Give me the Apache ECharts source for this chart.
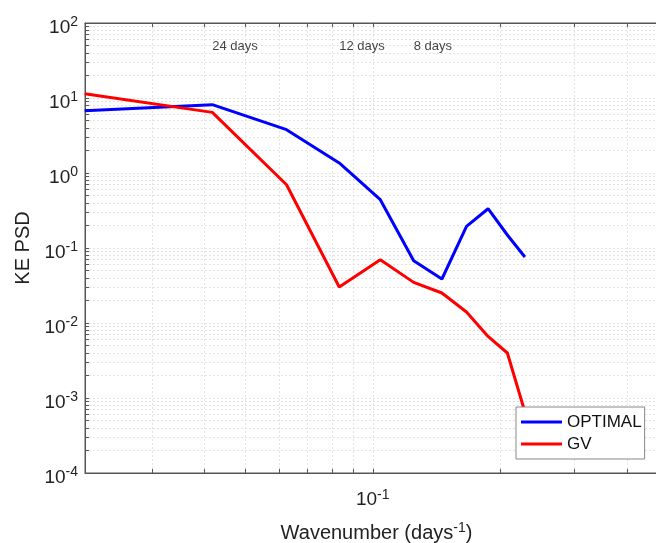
<!DOCTYPE html>
<html>
<head>
<meta charset="utf-8">
<script src="https://cdn.jsdelivr.net/npm/echarts@6/dist/echarts.min.js"></script>
<style>
  html, body { margin: 0; padding: 0; background: #fff; }
  #chart { width: 656px; height: 543px; }
</style>
</head>
<body>
<div id="chart"></div>
<script>
// wavenumber (1/days) of each spectral point
const wavenumber = [0.0208, 0.0417, 0.0625, 0.0833, 0.1042, 0.125, 0.1458, 0.1667, 0.1875, 0.2083, 0.2292];
const optimal = [6.76, 8.14, 3.78, 1.36, 0.44, 0.0677, 0.0386, 0.194, 0.334, 0.149, 0.0759];
const gv = [11.4, 6.43, 0.698, 0.0302, 0.0698, 0.0348, 0.0251, 0.014, 0.00662, 0.00398, 0.00065];

// period annotations
const periodX = [0.04167, 0.08333, 0.125];
const periodLabels = ['24 days', '12 days', '8 days'];
const periodY = 48;

// tick values
const yMajor = [1e-4, 1e-3, 1e-2, 1e-1, 1, 10, 100];
const yTicks = [];
for (let d = 0; d < yMajor.length - 1; d++) {
  for (let m = 1; m <= 9; m++) yTicks.push(yMajor[d] * m);
}
yTicks.push(100);
const xMajor = [0.1];
const xTicks = [0.03, 0.04, 0.05, 0.06, 0.07, 0.08, 0.09, 0.1, 0.2, 0.3, 0.4];

const FONT = '"Liberation Sans", Arial, sans-serif';
const gridColor = '#e3e3e3';
const axisColor = '#555';

function pow10(v) {
  const e = Math.round(Math.log10(v));
  return '{b|10}{s|' + e + '}';
}
const rich = {
  b: { fontSize: 19, fontFamily: FONT, color: '#222' },
  s: { fontSize: 14, fontFamily: FONT, color: '#222', padding: [0, 0, 10, 0] }
};

const chart = echarts.init(document.getElementById('chart'));

const option = {
  backgroundColor: '#fff',
  animation: false,
  textStyle: { fontFamily: FONT },
  grid: {
    left: 85, top: 23, width: 583, height: 450,
    outerBoundsMode: 'none',
    show: true, borderColor: axisColor, borderWidth: 1
  },
  legend: {
    data: [{ name: 'OPTIMAL', icon: 'rect' }, { name: 'GV', icon: 'rect' }],
    orient: 'vertical',
    left: 516, top: 407,
    padding: [6, 3, 6, 5],
    itemWidth: 41, itemHeight: 3, itemGap: 4,
    backgroundColor: '#fff',
    borderColor: '#888', borderWidth: 1,
    textStyle: { fontSize: 17, fontFamily: FONT, color: '#111', lineHeight: 18 },
    z: 10
  },
  xAxis: [{
    type: 'log', logBase: 10,
    min: 0.0208333, max: 0.5,
    name: 'Wavenumber (days{sup|-1})',
    nameLocation: 'middle', nameGap: 48,
    nameTextStyle: {
      fontSize: 20, fontFamily: FONT, color: '#222',
      rich: { sup: { fontSize: 14, fontFamily: FONT, color: '#222', padding: [0, 0, 10, 0] } }
    },
    axisLine: { show: true, lineStyle: { color: axisColor } },
    axisTick: { show: true, inside: true, length: 4, customValues: xTicks, lineStyle: { color: axisColor } },
    axisLabel: { customValues: xMajor, formatter: pow10, rich: rich, margin: 15 },
    splitLine: { show: true, lineStyle: { color: gridColor, type: [2, 2] } }
  }, {
    type: 'log', logBase: 10, position: 'top',
    min: 0.0208333, max: 0.5,
    axisLine: { show: true, lineStyle: { color: axisColor } },
    axisTick: { show: true, inside: true, length: 4, customValues: xTicks, lineStyle: { color: axisColor } },
    axisLabel: { show: false },
    splitLine: { show: false }
  }],
  yAxis: {
    type: 'log', logBase: 10,
    min: 1e-4, max: 100,
    name: 'KE PSD',
    nameLocation: 'middle', nameGap: 52,
    nameTextStyle: { fontSize: 20, fontFamily: FONT, color: '#222' },
    axisLine: { show: true, lineStyle: { color: axisColor } },
    axisTick: { show: true, inside: true, length: 4, customValues: yTicks, lineStyle: { color: axisColor } },
    axisLabel: { customValues: yMajor, formatter: pow10, rich: rich, margin: 7, padding: [9, 0, 0, 0] },
    splitLine: { show: true, lineStyle: { color: gridColor, type: [2, 2] } }
  },
  series: [{
    name: 'OPTIMAL', type: 'line',
    data: wavenumber.map((x, i) => [x, optimal[i]]),
    symbol: 'none',
    lineStyle: { color: '#0000ff', width: 3 },
    itemStyle: { color: '#0000ff' }
  }, {
    name: 'GV', type: 'line',
    data: wavenumber.map((x, i) => [x, gv[i]]),
    symbol: 'none',
    lineStyle: { color: '#ff0000', width: 3 },
    itemStyle: { color: '#ff0000' }
  }, {
    name: 'periods', type: 'scatter',
    data: periodX.map((x, i) => ({ value: [x, periodY], label: { formatter: periodLabels[i] } })),
    symbolSize: 0,
    label: {
      show: true, position: 'right', distance: 0,
      fontSize: 13, fontFamily: FONT, color: '#111'
    },
    silent: true
  }]
};

chart.setOption(option);
</script>
</body>
</html>
